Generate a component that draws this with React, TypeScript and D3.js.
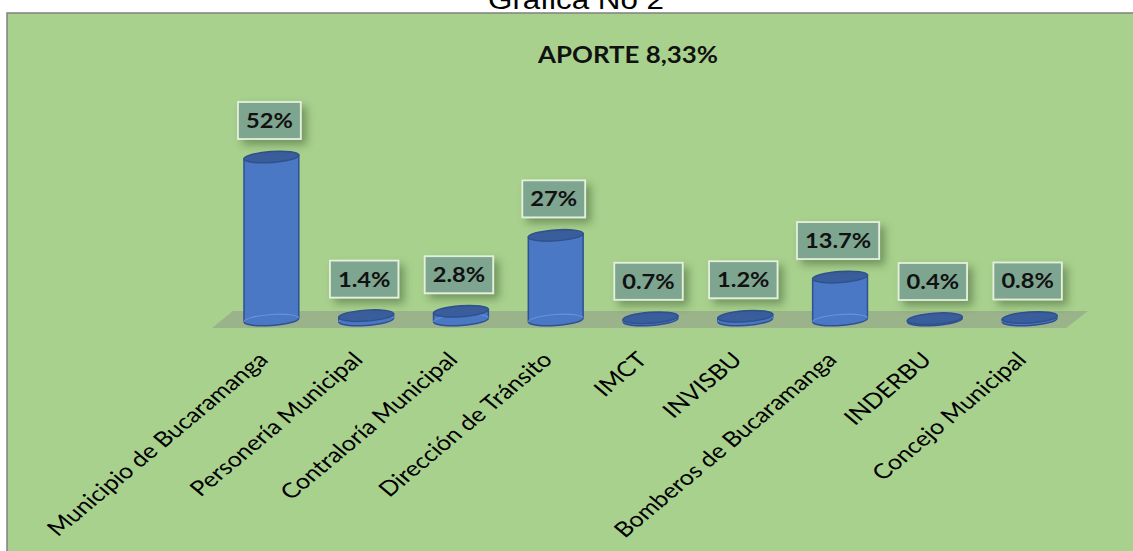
import React from "react";
import * as d3 from "d3";

const categories = [
  "Municipio de Bucaramanga",
  "Personería Municipal",
  "Contraloría Municipal",
  "Dirección de Tránsito",
  "IMCT",
  "INVISBU",
  "Bomberos de Bucaramanga",
  "INDERBU",
  "Concejo Municipal",
];
const values = [52, 1.4, 2.8, 27, 0.7, 1.2, 13.7, 0.4, 0.8];
const valueLabels = ["52%", "1.4%", "2.8%", "27%", "0.7%", "1.2%", "13.7%", "0.4%", "0.8%"];
const pageTitle = "Gráfica No 2";
const chartTitle = "APORTE 8,33%";

const W = 1133;
const H = 551;

function measure(text: string, font: string): number {
  const c = document.createElement("canvas");
  const ctx = c.getContext("2d");
  if (!ctx) return text.length * 11;
  ctx.font = font;
  return ctx.measureText(text).width;
}

export default function App() {
  const x = d3
    .scaleBand<string>()
    .domain(categories)
    .range([224, 1077])
    .paddingInner(0.42)
    .paddingOuter(0.21);
  const y = d3.scaleLinear().domain([0, 52]).range([320, 157]);
  const rx = x.bandwidth() / 2;
  const ry = 5.5;
  const tilt = -4;
  const rad = (tilt * Math.PI) / 180;
  const dxE = rx * Math.cos(rad);
  const dyE = rx * Math.sin(rad);

  const [r0, r1] = x.range();
  const floorTop = 311;
  const floorBot = 328;
  const floorPts = [
    [r0 - 12, floorBot],
    [r1 - 11, floorBot],
    [r1 + 11, floorTop],
    [r0 + 9, floorTop],
  ];

  const labelFont = "bold 21.5px Lato";
  const sx = 1.1;

  return (
    <svg
      width={W}
      height={H}
      style={{ position: "absolute", left: 0, top: 0, background: "#ffffff" }}
    >
      <defs>
        <filter id="shadow" x="-30%" y="-30%" width="180%" height="180%">
          <feDropShadow dx="5" dy="5" stdDeviation="4" floodColor="#2f4a22" floodOpacity="0.45" />
        </filter>
      </defs>
      <text
        transform={`translate(576,9) scale(1.12,1)`}
        textAnchor="middle"
        fontFamily="Liberation Sans, Arial, sans-serif"
        fontSize={28}
        fill="#000"
      >
        {pageTitle}
      </text>
      <rect x={7} y={13} width={W} height={H} fill="#A9D18E" stroke="#808080" strokeWidth={1.5} />
      <text
        transform={`translate(628,63) scale(1.15,1)`}
        textAnchor="middle"
        fontFamily="Lato, sans-serif"
        fontWeight="bold"
        fontSize={22.5}
        fill="#111"
      >
        {chartTitle}
      </text>

      <polygon points={floorPts.map((p) => p.join(",")).join(" ")} fill="#9AB38B" />

      {categories.map((c, i) => {
        const cx = (x(c) as number) + rx;
        const yb = y(0);
        const yt = Math.min(y(values[i]), yb - 1.3);
        const body = `M${cx - dxE},${yt - dyE} L${cx - dxE},${yb - dyE} A${rx},${ry} ${tilt} 0 0 ${cx + dxE},${yb + dyE} L${cx + dxE},${yt + dyE} Z`;
        const backArc = `M${cx - dxE},${yb - dyE} A${rx},${ry} ${tilt} 0 1 ${cx + dxE},${yb + dyE}`;
        return (
          <g key={c}>
            <path d={body} fill="#4A78C4" stroke="#2F528F" strokeWidth={1.5} />
            <path d={backArc} fill="none" stroke="#6E9BE0" strokeWidth={1.2} opacity={0.8} />
            <ellipse
              cx={cx}
              cy={yt}
              rx={rx}
              ry={ry}
              transform={`rotate(${tilt},${cx},${yt})`}
              fill="#3A5D9B"
              stroke="#2F528F"
              strokeWidth={1.5}
            />
          </g>
        );
      })}

      {categories.map((c, i) => {
        const cx = (x(c) as number) + rx;
        const yt = y(values[i]);
        const tw = measure(valueLabels[i], labelFont) * sx;
        const bw = tw + 16;
        const bh = 37;
        const bb = Math.min(yt, y(0) - 2) - 18;
        return (
          <g key={"l" + c}>
            <rect
              x={cx - 2 - bw / 2}
              y={bb - bh}
              width={bw}
              height={bh}
              fill="#7DA58F"
              stroke="#E4F0DC"
              strokeWidth={1.8}
              filter="url(#shadow)"
            />
            <text
              transform={`translate(${cx - 2},${bb - bh / 2 + 7.5}) scale(${sx},1)`}
              textAnchor="middle"
              fontFamily="Lato, sans-serif"
              fontWeight="bold"
              fontSize={21.5}
              fill="#111"
            >
              {valueLabels[i]}
            </text>
          </g>
        );
      })}

      {categories.map((c) => {
        const cx = (x(c) as number) + rx;
        return (
          <text
            key={"a" + c}
            transform={`translate(${cx - 2},${361}) scale(1.2,1) rotate(-45)`}
            textAnchor="end"
            fontFamily="Lato, sans-serif"
            fontSize={21}
            fill="#000"
          >
            {c}
          </text>
        );
      })}
    </svg>
  );
}
